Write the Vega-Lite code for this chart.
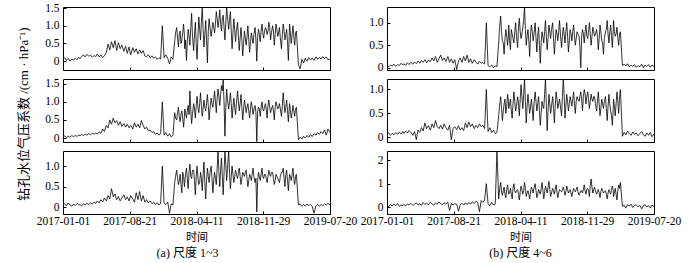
{
"$schema":"https://vega.github.io/schema/vega-lite/v6.json",
"padding":{"left":17,"top":1,"right":0,"bottom":0},
"data":{"values":[
{"t":"2017-01-01","a":0.05,"b":0.03,"c":0.04,"d":0.03,"e":0.06,"f":0.05},
{"t":"2017-01-07","a":0.10,"b":0.06,"c":0.08,"d":0.02,"e":0.09,"f":0.02},
{"t":"2017-01-13","a":0.02,"b":0.01,"c":0.03,"d":0.06,"e":0.04,"f":0.10},
{"t":"2017-01-19","a":0.08,"b":0.05,"c":0.10,"d":0.04,"e":0.08,"f":0.04},
{"t":"2017-01-25","a":0.00,"b":0.02,"c":0.05,"d":0.08,"e":0.05,"f":0.12},
{"t":"2017-02-01","a":0.06,"b":0.07,"c":0.02,"d":0.03,"e":0.10,"f":0.06},
{"t":"2017-02-07","a":0.03,"b":0.03,"c":0.07,"d":0.07,"e":0.06,"f":0.15},
{"t":"2017-02-13","a":0.09,"b":0.08,"c":0.04,"d":0.05,"e":0.11,"f":0.03},
{"t":"2017-02-19","a":0.04,"b":0.04,"c":0.09,"d":0.10,"e":0.07,"f":0.09},
{"t":"2017-02-25","a":0.11,"b":0.09,"c":0.05,"d":0.06,"e":0.12,"f":0.05},
{"t":"2017-03-01","a":0.07,"b":0.06,"c":0.06,"d":0.09,"e":0.08,"f":0.11},
{"t":"2017-03-07","a":0.13,"b":0.10,"c":0.03,"d":0.05,"e":0.13,"f":0.04},
{"t":"2017-03-13","a":0.18,"b":0.07,"c":0.08,"d":0.11,"e":0.09,"f":0.13},
{"t":"2017-03-19","a":0.12,"b":0.11,"c":0.05,"d":0.07,"e":0.14,"f":0.08},
{"t":"2017-03-25","a":0.19,"b":0.08,"c":0.09,"d":0.12,"e":0.10,"f":0.16},
{"t":"2017-04-01","a":0.14,"b":0.12,"c":0.06,"d":0.08,"e":0.04,"f":0.07},
{"t":"2017-04-07","a":0.17,"b":0.09,"c":0.11,"d":0.13,"e":0.12,"f":0.12},
{"t":"2017-04-13","a":0.11,"b":0.13,"c":0.07,"d":0.09,"e":-0.05,"f":0.18},
{"t":"2017-04-19","a":0.16,"b":0.10,"c":0.12,"d":0.15,"e":0.15,"f":0.09},
{"t":"2017-04-25","a":0.13,"b":0.14,"c":0.09,"d":0.10,"e":0.10,"f":0.14},
{"t":"2017-05-01","a":0.20,"b":0.11,"c":0.15,"d":0.16,"e":0.20,"f":0.07},
{"t":"2017-05-07","a":0.12,"b":0.17,"c":0.10,"d":0.12,"e":0.13,"f":0.19},
{"t":"2017-05-13","a":0.18,"b":0.13,"c":0.18,"d":0.18,"e":0.30,"f":0.11},
{"t":"2017-05-19","a":0.10,"b":0.25,"c":0.12,"d":0.11,"e":0.18,"f":0.16},
{"t":"2017-05-25","a":0.15,"b":0.18,"c":0.22,"d":0.17,"e":0.24,"f":0.10},
{"t":"2017-06-01","a":0.25,"b":0.35,"c":0.15,"d":0.14,"e":0.15,"f":0.20},
{"t":"2017-06-07","a":0.48,"b":0.28,"c":0.28,"d":0.22,"e":0.28,"f":0.13},
{"t":"2017-06-13","a":0.32,"b":0.50,"c":0.20,"d":0.15,"e":0.20,"f":0.08},
{"t":"2017-06-19","a":0.55,"b":0.38,"c":0.45,"d":0.25,"e":0.35,"f":0.17},
{"t":"2017-06-25","a":0.38,"b":0.55,"c":0.25,"d":0.12,"e":0.22,"f":0.12},
{"t":"2017-07-01","a":0.58,"b":0.42,"c":0.32,"d":0.20,"e":0.18,"f":0.22},
{"t":"2017-07-07","a":0.30,"b":0.48,"c":0.18,"d":0.28,"e":0.25,"f":0.14},
{"t":"2017-07-13","a":0.52,"b":0.35,"c":0.26,"d":0.16,"e":0.17,"f":0.10},
{"t":"2017-07-19","a":0.35,"b":0.45,"c":0.15,"d":0.22,"e":0.28,"f":0.18},
{"t":"2017-07-25","a":0.45,"b":0.32,"c":0.22,"d":0.14,"e":0.20,"f":0.12},
{"t":"2017-08-01","a":0.28,"b":0.40,"c":0.30,"d":0.25,"e":0.15,"f":0.20},
{"t":"2017-08-07","a":0.42,"b":0.30,"c":0.18,"d":0.12,"e":0.25,"f":-0.15},
{"t":"2017-08-13","a":0.22,"b":0.38,"c":0.25,"d":0.20,"e":-0.05,"f":0.15},
{"t":"2017-08-19","a":0.40,"b":0.28,"c":0.15,"d":0.10,"e":0.18,"f":0.09},
{"t":"2017-08-25","a":0.18,"b":0.35,"c":0.28,"d":0.18,"e":0.22,"f":0.14},
{"t":"2017-09-01","a":0.38,"b":0.25,"c":0.20,"d":-0.04,"e":0.16,"f":0.12},
{"t":"2017-09-07","a":0.25,"b":0.42,"c":0.12,"d":0.15,"e":0.24,"f":-0.18},
{"t":"2017-09-13","a":0.35,"b":0.30,"c":0.35,"d":0.22,"e":0.15,"f":0.10},
{"t":"2017-09-19","a":0.20,"b":0.38,"c":0.18,"d":0.12,"e":0.20,"f":0.16},
{"t":"2017-09-25","a":0.32,"b":0.28,"c":0.38,"d":0.25,"e":0.14,"f":0.08},
{"t":"2017-10-01","a":0.22,"b":0.48,"c":0.15,"d":0.15,"e":0.30,"f":0.18},
{"t":"2017-10-07","a":0.30,"b":0.35,"c":0.28,"d":0.28,"e":0.20,"f":0.10},
{"t":"2017-10-13","a":0.15,"b":0.25,"c":0.12,"d":0.12,"e":0.32,"f":0.20},
{"t":"2017-10-19","a":0.12,"b":0.30,"c":0.18,"d":0.20,"e":0.22,"f":0.12},
{"t":"2017-10-25","a":0.18,"b":0.20,"c":0.10,"d":0.10,"e":0.28,"f":0.22},
{"t":"2017-11-01","a":0.10,"b":0.22,"c":0.15,"d":0.18,"e":0.18,"f":0.15},
{"t":"2017-11-07","a":0.15,"b":0.15,"c":0.08,"d":0.12,"e":0.25,"f":0.25},
{"t":"2017-11-13","a":0.08,"b":0.18,"c":0.12,"d":0.08,"e":0.20,"f":0.18},
{"t":"2017-11-19","a":0.12,"b":0.10,"c":0.06,"d":0.14,"e":0.28,"f":-0.20},
{"t":"2017-11-25","a":0.05,"b":0.14,"c":0.10,"d":0.10,"e":0.22,"f":0.28},
{"t":"2017-12-01","a":0.10,"b":0.08,"c":0.05,"d":0.12,"e":0.25,"f":0.20},
{"t":"2017-12-07","a":0.06,"b":0.12,"c":0.08,"d":0.08,"e":0.18,"f":0.30},
{"t":"2017-12-13","a":1.0,"b":1.0,"c":1.0,"d":1.0,"e":1.0,"f":1.0},
{"t":"2017-12-19","a":0.10,"b":0.08,"c":0.10,"d":0.05,"e":0.12,"f":0.15},
{"t":"2017-12-25","a":0.18,"b":0.15,"c":0.06,"d":0.02,"e":0.20,"f":0.05},
{"t":"2018-01-01","a":0.08,"b":0.05,"c":0.12,"d":0.06,"e":0.10,"f":0.20},
{"t":"2018-01-07","a":-0.08,"b":0.12,"c":-0.15,"d":0.00,"e":0.15,"f":0.08},
{"t":"2018-01-13","a":0.12,"b":0.03,"c":0.08,"d":0.04,"e":0.08,"f":0.12},
{"t":"2018-01-19","a":0.05,"b":0.08,"c":0.05,"d":0.03,"e":0.10,"f":2.4},
{"t":"2018-01-25","a":0.55,"b":0.70,"c":0.60,"d":0.55,"e":0.45,"f":0.35},
{"t":"2018-02-01","a":0.95,"b":0.50,"c":0.90,"d":1.15,"e":0.85,"f":1.05},
{"t":"2018-02-07","a":0.40,"b":0.85,"c":0.55,"d":0.60,"e":0.35,"f":0.50},
{"t":"2018-02-13","a":0.85,"b":0.45,"c":0.80,"d":0.30,"e":0.70,"f":0.85},
{"t":"2018-02-19","a":0.60,"b":0.75,"c":0.35,"d":0.85,"e":0.50,"f":0.40},
{"t":"2018-02-25","a":1.05,"b":0.30,"c":0.75,"d":0.50,"e":0.90,"f":0.95},
{"t":"2018-03-01","a":0.35,"b":0.80,"c":0.60,"d":0.95,"e":0.60,"f":0.55},
{"t":"2018-03-07","a":0.02,"b":0.55,"c":0.95,"d":0.40,"e":0.80,"f":0.80},
{"t":"2018-03-13","a":0.90,"b":0.90,"c":0.45,"d":0.75,"e":0.40,"f":0.35},
{"t":"2018-03-19","a":0.45,"b":1.30,"c":1.05,"d":0.55,"e":0.95,"f":1.00},
{"t":"2018-03-25","a":1.35,"b":0.40,"c":0.70,"d":1.00,"e":0.55,"f":0.60},
{"t":"2018-04-01","a":0.30,"b":0.95,"c":0.90,"d":0.45,"e":0.85,"f":0.75},
{"t":"2018-04-07","a":1.10,"b":0.55,"c":0.30,"d":1.10,"e":0.45,"f":0.30},
{"t":"2018-04-13","a":0.05,"b":1.15,"c":1.00,"d":0.65,"e":1.10,"f":0.90},
{"t":"2018-04-19","a":1.25,"b":0.70,"c":0.55,"d":0.90,"e":0.60,"f":0.55},
{"t":"2018-04-25","a":0.60,"b":1.25,"c":0.85,"d":1.35,"e":1.22,"f":1.05},
{"t":"2018-05-01","a":1.50,"b":0.60,"c":0.40,"d":0.50,"e":0.30,"f":0.45},
{"t":"2018-05-07","a":0.40,"b":1.05,"c":1.10,"d":0.85,"e":0.90,"f":0.70},
{"t":"2018-05-13","a":1.15,"b":0.75,"c":0.20,"d":0.25,"e":0.50,"f":0.35},
{"t":"2018-05-19","a":-0.05,"b":1.20,"c":0.95,"d":0.95,"e":0.80,"f":0.85},
{"t":"2018-05-25","a":1.20,"b":0.50,"c":0.60,"d":0.60,"e":0.35,"f":0.60},
{"t":"2018-06-01","a":0.70,"b":1.10,"c":1.00,"d":1.00,"e":0.95,"f":1.00},
{"t":"2018-06-07","a":1.10,"b":0.85,"c":0.35,"d":0.35,"e":0.55,"f":0.40},
{"t":"2018-06-13","a":0.80,"b":1.30,"c":0.85,"d":0.90,"e":0.85,"f":0.75},
{"t":"2018-06-19","a":1.40,"b":0.70,"c":0.55,"d":0.10,"e":0.25,"f":0.55},
{"t":"2018-06-25","a":0.95,"b":1.35,"c":1.37,"d":0.80,"e":0.75,"f":1.05},
{"t":"2018-07-01","a":1.45,"b":0.90,"c":0.50,"d":0.55,"e":0.60,"f":0.35},
{"t":"2018-07-07","a":0.85,"b":1.45,"c":1.20,"d":1.05,"e":1.22,"f":0.90},
{"t":"2018-07-13","a":1.30,"b":1.60,"c":0.30,"d":0.40,"e":0.14,"f":0.60},
{"t":"2018-07-19","a":0.60,"b":0.05,"c":1.37,"d":0.95,"e":0.90,"f":1.10},
{"t":"2018-07-25","a":1.52,"b":1.35,"c":0.65,"d":0.65,"e":0.50,"f":0.45},
{"t":"2018-08-01","a":0.90,"b":0.80,"c":1.37,"d":1.00,"e":0.85,"f":0.80},
{"t":"2018-08-07","a":1.40,"b":1.25,"c":0.45,"d":0.30,"e":0.30,"f":0.55},
{"t":"2018-08-13","a":0.35,"b":0.55,"c":1.00,"d":0.85,"e":0.95,"f":0.95},
{"t":"2018-08-19","a":1.20,"b":1.10,"c":0.60,"d":0.60,"e":0.60,"f":0.40},
{"t":"2018-08-25","a":0.55,"b":0.65,"c":0.90,"d":1.05,"e":0.80,"f":0.75},
{"t":"2018-09-01","a":1.10,"b":1.30,"c":0.70,"d":0.45,"e":0.45,"f":0.65},
{"t":"2018-09-07","a":0.30,"b":0.75,"c":0.95,"d":0.90,"e":1.22,"f":0.85},
{"t":"2018-09-13","a":0.95,"b":1.20,"c":0.55,"d":0.55,"e":0.40,"f":0.50},
{"t":"2018-09-19","a":0.15,"b":0.50,"c":0.85,"d":1.00,"e":0.90,"f":0.90},
{"t":"2018-09-25","a":0.85,"b":1.05,"c":0.75,"d":0.35,"e":0.55,"f":0.60},
{"t":"2018-10-01","a":0.45,"b":0.70,"c":0.90,"d":0.85,"e":0.85,"f":0.75},
{"t":"2018-10-07","a":1.00,"b":0.95,"c":0.50,"d":0.60,"e":0.65,"f":0.45},
{"t":"2018-10-13","a":0.25,"b":0.55,"c":0.80,"d":0.95,"e":0.95,"f":0.80},
{"t":"2018-10-19","a":0.80,"b":1.00,"c":0.65,"d":0.50,"e":0.50,"f":0.65},
{"t":"2018-10-25","a":0.50,"b":0.65,"c":0.95,"d":0.80,"e":0.85,"f":0.85},
{"t":"2018-11-01","a":0.95,"b":0.90,"c":0.60,"d":0.70,"e":0.75,"f":0.50},
{"t":"2018-11-07","a":0.00,"b":-0.10,"c":-0.12,"d":0.00,"e":0.95,"f":0.70},
{"t":"2018-11-13","a":0.90,"b":0.85,"c":0.85,"d":0.85,"e":0.55,"f":0.60},
{"t":"2018-11-19","a":0.55,"b":0.60,"c":0.65,"d":0.55,"e":1.00,"f":0.95},
{"t":"2018-11-25","a":1.05,"b":1.00,"c":0.95,"d":0.95,"e":0.70,"f":0.55},
{"t":"2018-12-01","a":0.65,"b":0.75,"c":0.70,"d":0.65,"e":0.95,"f":0.80},
{"t":"2018-12-07","a":0.95,"b":0.95,"c":0.80,"d":1.00,"e":0.60,"f":0.45},
{"t":"2018-12-13","a":0.75,"b":0.55,"c":0.60,"d":0.50,"e":0.90,"f":1.20},
{"t":"2018-12-19","a":1.10,"b":1.05,"c":0.90,"d":0.90,"e":0.75,"f":0.60},
{"t":"2018-12-25","a":0.60,"b":0.70,"c":0.75,"d":0.70,"e":0.85,"f":0.85},
{"t":"2019-01-01","a":1.00,"b":0.90,"c":0.85,"d":0.85,"e":0.55,"f":0.55},
{"t":"2019-01-07","a":0.45,"b":0.50,"c":0.55,"d":0.40,"e":0.95,"f":0.75},
{"t":"2019-01-13","a":1.05,"b":1.00,"c":0.80,"d":0.95,"e":0.45,"f":0.40},
{"t":"2019-01-19","a":0.70,"b":0.80,"c":0.70,"d":0.60,"e":0.80,"f":0.80},
{"t":"2019-01-25","a":0.95,"b":0.95,"c":0.60,"d":0.30,"e":0.60,"f":0.60},
{"t":"2019-02-01","a":0.35,"b":0.60,"c":0.85,"d":0.80,"e":0.85,"f":0.70},
{"t":"2019-02-07","a":1.05,"b":1.25,"c":0.95,"d":1.05,"e":0.35,"f":0.35},
{"t":"2019-02-13","a":0.60,"b":0.70,"c":0.50,"d":0.55,"e":0.90,"f":0.75},
{"t":"2019-02-19","a":0.90,"b":1.05,"c":0.90,"d":0.95,"e":0.55,"f":0.55},
{"t":"2019-02-25","a":0.02,"b":0.45,"c":0.40,"d":0.45,"e":0.25,"f":0.90},
{"t":"2019-03-01","a":1.05,"b":0.95,"c":0.80,"d":1.05,"e":0.80,"f":0.45},
{"t":"2019-03-07","a":0.50,"b":0.55,"c":0.65,"d":0.70,"e":0.45,"f":0.80},
{"t":"2019-03-13","a":1.00,"b":0.90,"c":0.95,"d":0.90,"e":0.95,"f":0.30},
{"t":"2019-03-19","a":0.45,"b":0.60,"c":0.55,"d":0.50,"e":0.50,"f":0.95},
{"t":"2019-03-25","a":0.85,"b":0.85,"c":0.80,"d":0.80,"e":1.00,"f":1.05},
{"t":"2019-04-01","a":-0.10,"b":-0.05,"c":0.05,"d":0.05,"e":0.02,"f":0.02},
{"t":"2019-04-07","a":-0.22,"b":0.02,"c":0.08,"d":0.08,"e":0.10,"f":0.08},
{"t":"2019-04-13","a":0.05,"b":-0.03,"c":0.02,"d":0.04,"e":0.05,"f":-0.05},
{"t":"2019-04-19","a":-0.05,"b":0.05,"c":0.06,"d":0.09,"e":0.13,"f":0.10},
{"t":"2019-04-25","a":0.08,"b":0.00,"c":0.03,"d":0.02,"e":0.08,"f":0.04},
{"t":"2019-05-01","a":0.00,"b":0.07,"c":0.07,"d":0.06,"e":0.04,"f":0.12},
{"t":"2019-05-07","a":0.10,"b":0.02,"c":0.04,"d":0.03,"e":0.11,"f":-0.02},
{"t":"2019-05-13","a":0.03,"b":0.10,"c":0.06,"d":0.07,"e":0.06,"f":0.06},
{"t":"2019-05-19","a":0.09,"b":0.04,"c":0.02,"d":0.01,"e":0.09,"f":0.09},
{"t":"2019-05-25","a":0.02,"b":0.12,"c":-0.15,"d":0.05,"e":0.03,"f":0.01},
{"t":"2019-06-01","a":0.12,"b":0.08,"c":0.03,"d":0.02,"e":0.08,"f":0.07},
{"t":"2019-06-07","a":0.05,"b":0.15,"c":0.07,"d":0.08,"e":0.12,"f":-0.08},
{"t":"2019-06-13","a":0.11,"b":0.10,"c":0.02,"d":0.00,"e":0.05,"f":0.05},
{"t":"2019-06-19","a":0.06,"b":0.18,"c":0.06,"d":0.06,"e":0.02,"f":0.10},
{"t":"2019-06-25","a":0.13,"b":0.12,"c":0.04,"d":0.03,"e":0.09,"f":0.00},
{"t":"2019-07-01","a":0.07,"b":0.22,"c":0.08,"d":0.07,"e":0.04,"f":0.06},
{"t":"2019-07-07","a":0.12,"b":0.08,"c":0.05,"d":0.01,"e":0.10,"f":-0.04},
{"t":"2019-07-13","a":0.04,"b":0.25,"c":0.09,"d":0.06,"e":0.01,"f":0.08},
{"t":"2019-07-20","a":0.06,"b":0.15,"c":0.05,"d":0.03,"e":0.07,"f":0.02},
{"t":"2018-01-28","a":0.80,"b":0.55,"c":0.75,"d":0.90,"e":0.65,"f":0.75},
{"t":"2018-02-04","a":0.65,"b":0.70,"c":0.70,"d":0.80,"e":0.60,"f":0.65},
{"t":"2018-02-10","a":0.75,"b":0.60,"c":0.65,"d":0.55,"e":0.55,"f":0.70},
{"t":"2018-02-16","a":0.50,"b":0.65,"c":0.55,"d":0.65,"e":0.80,"f":0.55},
{"t":"2018-02-22","a":0.80,"b":0.55,"c":0.85,"d":0.70,"e":0.65,"f":0.75},
{"t":"2018-02-28","a":0.70,"b":0.60,"c":0.50,"d":0.75,"e":0.75,"f":0.65},
{"t":"2018-03-04","a":0.60,"b":0.70,"c":0.80,"d":0.60,"e":0.70,"f":0.60},
{"t":"2018-03-10","a":0.55,"b":0.75,"c":0.70,"d":0.85,"e":0.55,"f":0.55},
{"t":"2018-03-16","a":0.70,"b":0.65,"c":0.85,"d":0.65,"e":0.70,"f":0.80},
{"t":"2018-03-22","a":0.95,"b":0.80,"c":0.75,"d":0.80,"e":0.75,"f":0.70},
{"t":"2018-03-28","a":0.70,"b":0.65,"c":0.90,"d":0.70,"e":0.65,"f":0.70},
{"t":"2018-04-04","a":0.75,"b":0.80,"c":0.65,"d":0.90,"e":0.70,"f":0.55},
{"t":"2018-04-10","a":0.50,"b":0.90,"c":0.75,"d":0.80,"e":0.80,"f":0.65},
{"t":"2018-04-16","a":0.65,"b":0.85,"c":0.70,"d":0.75,"e":0.85,"f":0.75},
{"t":"2018-04-22","a":0.90,"b":0.95,"c":0.60,"d":1.05,"e":0.90,"f":0.70},
{"t":"2018-04-28","a":1.10,"b":0.90,"c":0.70,"d":0.85,"e":0.75,"f":0.80},
{"t":"2018-05-04","a":0.90,"b":0.80,"c":0.80,"d":0.70,"e":0.65,"f":0.60},
{"t":"2018-05-10","a":0.75,"b":0.85,"c":0.60,"d":0.60,"e":0.70,"f":0.55},
{"t":"2018-05-16","a":0.60,"b":0.95,"c":0.65,"d":0.75,"e":0.65,"f":0.65},
{"t":"2018-05-22","a":0.85,"b":0.90,"c":0.75,"d":0.80,"e":0.60,"f":0.75},
{"t":"2018-05-28","a":0.95,"b":0.80,"c":0.85,"d":0.75,"e":0.70,"f":0.80},
{"t":"2018-06-04","a":0.90,"b":0.95,"c":0.70,"d":0.65,"e":0.75,"f":0.70},
{"t":"2018-06-10","a":0.95,"b":1.05,"c":0.65,"d":0.70,"e":0.70,"f":0.55},
{"t":"2018-06-16","a":1.05,"b":1.00,"c":0.70,"d":0.50,"e":0.55,"f":0.65},
{"t":"2018-06-22","a":1.20,"b":1.10,"c":0.95,"d":0.55,"e":0.50,"f":0.80},
{"t":"2018-06-28","a":1.15,"b":1.15,"c":0.85,"d":0.70,"e":0.65,"f":0.70},
{"t":"2018-07-04","a":1.05,"b":1.20,"c":0.90,"d":0.80,"e":0.90,"f":0.65},
{"t":"2018-07-10","a":1.20,"b":1.30,"c":0.75,"d":0.70,"e":0.70,"f":0.75},
{"t":"2018-07-16","a":0.95,"b":1.00,"c":0.85,"d":0.65,"e":0.55,"f":0.85},
{"t":"2018-07-22","a":1.10,"b":0.85,"c":1.05,"d":0.80,"e":0.70,"f":0.75},
{"t":"2018-07-28","a":1.25,"b":1.05,"c":0.95,"d":0.85,"e":0.65,"f":0.60},
{"t":"2018-08-04","a":1.15,"b":1.00,"c":0.85,"d":0.65,"e":0.60,"f":0.70},
{"t":"2018-08-10","a":0.85,"b":0.95,"c":0.75,"d":0.60,"e":0.65,"f":0.75},
{"t":"2018-08-16","a":0.80,"b":0.85,"c":0.80,"d":0.75,"e":0.80,"f":0.65},
{"t":"2018-08-22","a":0.90,"b":0.85,"c":0.75,"d":0.80,"e":0.70,"f":0.60},
{"t":"2018-08-28","a":0.85,"b":0.95,"c":0.80,"d":0.75,"e":0.65,"f":0.70},
{"t":"2018-09-04","a":0.70,"b":1.00,"c":0.85,"d":0.70,"e":0.85,"f":0.75},
{"t":"2018-09-10","a":0.65,"b":0.95,"c":0.75,"d":0.75,"e":0.90,"f":0.70},
{"t":"2018-09-16","a":0.60,"b":0.85,"c":0.70,"d":0.80,"e":0.65,"f":0.65},
{"t":"2018-09-22","a":0.50,"b":0.80,"c":0.80,"d":0.70,"e":0.75,"f":0.75},
{"t":"2018-09-28","a":0.65,"b":0.90,"c":0.85,"d":0.60,"e":0.70,"f":0.70},
{"t":"2018-10-04","a":0.70,"b":0.85,"c":0.70,"d":0.75,"e":0.75,"f":0.60},
{"t":"2018-10-10","a":0.60,"b":0.75,"c":0.65,"d":0.80,"e":0.80,"f":0.65},
{"t":"2018-10-16","a":0.55,"b":0.80,"c":0.75,"d":0.70,"e":0.70,"f":0.70},
{"t":"2018-10-22","a":0.65,"b":0.85,"c":0.80,"d":0.65,"e":0.75,"f":0.75},
{"t":"2018-10-28","a":0.75,"b":0.80,"c":0.75,"d":0.75,"e":0.80,"f":0.65},
{"t":"2018-11-04","a":0.60,"b":0.70,"c":0.70,"d":0.45,"e":0.85,"f":0.60},
{"t":"2018-11-10","a":0.70,"b":0.75,"c":0.65,"d":0.70,"e":0.80,"f":0.70},
{"t":"2018-11-16","a":0.75,"b":0.80,"c":0.75,"d":0.75,"e":0.85,"f":0.75},
{"t":"2018-11-22","a":0.85,"b":0.85,"c":0.80,"d":0.80,"e":0.90,"f":0.70},
{"t":"2018-11-28","a":0.80,"b":0.80,"c":0.75,"d":0.70,"e":0.85,"f":0.75},
{"t":"2018-12-04","a":0.85,"b":0.85,"c":0.80,"d":0.80,"e":0.80,"f":0.70},
{"t":"2018-12-10","a":0.90,"b":0.80,"c":0.70,"d":0.75,"e":0.75,"f":0.90},
{"t":"2018-12-16","a":0.85,"b":0.90,"c":0.75,"d":0.70,"e":0.80,"f":0.85},
{"t":"2018-12-22","a":0.95,"b":0.85,"c":0.80,"d":0.80,"e":0.85,"f":0.75},
{"t":"2018-12-28","a":0.80,"b":0.80,"c":0.85,"d":0.75,"e":0.70,"f":0.70},
{"t":"2019-01-04","a":0.85,"b":0.75,"c":0.70,"d":0.70,"e":0.75,"f":0.65},
{"t":"2019-01-10","a":0.75,"b":0.85,"c":0.65,"d":0.65,"e":0.70,"f":0.60},
{"t":"2019-01-16","a":0.90,"b":0.90,"c":0.75,"d":0.80,"e":0.60,"f":0.65},
{"t":"2019-01-22","a":0.80,"b":0.85,"c":0.65,"d":0.55,"e":0.70,"f":0.70},
{"t":"2019-01-28","a":0.65,"b":0.80,"c":0.75,"d":0.65,"e":0.75,"f":0.65},
{"t":"2019-02-04","a":0.75,"b":0.90,"c":0.85,"d":0.85,"e":0.60,"f":0.55},
{"t":"2019-02-10","a":0.85,"b":0.95,"c":0.70,"d":0.75,"e":0.65,"f":0.60},
{"t":"2019-02-16","a":0.75,"b":0.85,"c":0.80,"d":0.80,"e":0.70,"f":0.65},
{"t":"2019-02-22","a":0.55,"b":0.75,"c":0.65,"d":0.70,"e":0.45,"f":0.75},
{"t":"2019-02-28","a":0.70,"b":0.80,"c":0.70,"d":0.85,"e":0.60,"f":0.70},
{"t":"2019-03-04","a":0.80,"b":0.75,"c":0.75,"d":0.80,"e":0.65,"f":0.60},
{"t":"2019-03-10","a":0.75,"b":0.70,"c":0.80,"d":0.75,"e":0.70,"f":0.55},
{"t":"2019-03-16","a":0.70,"b":0.75,"c":0.70,"d":0.65,"e":0.75,"f":0.70},
{"t":"2019-03-22","a":0.80,"b":0.80,"c":0.75,"d":0.75,"e":0.85,"f":0.80}
]},
"spacing":1,
"hconcat":[
{"title":{"text":"(a) 尺度 1~3","orient":"bottom","anchor":"middle","offset":5},
 "vconcat":[
 {"title":{"text":"钻孔水位气压系数 /(cm · hPa⁻¹)","orient":"left","anchor":"middle","offset":5,"fontSize":13,"dx":8},
  "spacing":9,"bounds":"flush",
  "vconcat":[
  {"width":267,"height":63,"mark":{"type":"line","color":"#000","strokeWidth":0.8,"clip":true},
   "encoding":{
    "x":{"field":"t","type":"temporal","scale":{"type":"utc","domain":[{"year":2017,"month":1,"date":1,"utc":true},{"year":2019,"month":7,"date":20,"utc":true}]},
         "axis":{"values":[{"year":2017,"month":1,"date":1,"utc":true},{"year":2017,"month":8,"date":21,"utc":true},{"year":2018,"month":4,"date":11,"utc":true},{"year":2018,"month":11,"date":29,"utc":true},{"year":2019,"month":7,"date":20,"utc":true}],"labels":false,"title":null}},
    "y":{"field":"a","type":"quantitative","scale":{"domain":[-0.25,1.53],"nice":false,"zero":false},
         "axis":{"values":[0,0.5,1,1.5],"title":null,"labelExpr":"datum.value == 0 ? '0' : format(datum.value, '.1f')"}}}},
  {"width":267,"height":63,"mark":{"type":"line","color":"#000","strokeWidth":0.8,"clip":true},
   "encoding":{
    "x":{"field":"t","type":"temporal","scale":{"type":"utc","domain":[{"year":2017,"month":1,"date":1,"utc":true},{"year":2019,"month":7,"date":20,"utc":true}]},
         "axis":{"values":[{"year":2017,"month":1,"date":1,"utc":true},{"year":2017,"month":8,"date":21,"utc":true},{"year":2018,"month":4,"date":11,"utc":true},{"year":2018,"month":11,"date":29,"utc":true},{"year":2019,"month":7,"date":20,"utc":true}],"labels":false,"title":null}},
    "y":{"field":"b","type":"quantitative","scale":{"domain":[-0.11,1.63],"nice":false,"zero":false},
         "axis":{"values":[0,0.5,1,1.5],"title":null,"labelExpr":"datum.value == 0 ? '0' : format(datum.value, '.1f')"}}}},
  {"width":267,"height":63,"mark":{"type":"line","color":"#000","strokeWidth":0.8,"clip":true},
   "encoding":{
    "x":{"field":"t","type":"temporal","scale":{"type":"utc","domain":[{"year":2017,"month":1,"date":1,"utc":true},{"year":2019,"month":7,"date":20,"utc":true}]},
         "axis":{"values":[{"year":2017,"month":1,"date":1,"utc":true},{"year":2017,"month":8,"date":21,"utc":true},{"year":2018,"month":4,"date":11,"utc":true},{"year":2018,"month":11,"date":29,"utc":true},{"year":2019,"month":7,"date":20,"utc":true}],"title":"时间","labelExpr":"utcFormat(datum.value, '%Y-%m-%d')"}},
    "y":{"field":"c","type":"quantitative","scale":{"domain":[-0.17,1.37],"nice":false,"zero":false},
         "axis":{"values":[0,0.5,1],"title":null,"labelExpr":"datum.value == 0 ? '0' : format(datum.value, '.1f')"}}}}
  ]}
 ]},
{"title":{"text":"(b) 尺度 4~6","orient":"bottom","anchor":"middle","offset":5},
 "spacing":9,"bounds":"flush",
 "vconcat":[
  {"width":267,"height":63,"mark":{"type":"line","color":"#000","strokeWidth":0.8,"clip":true},
   "encoding":{
    "x":{"field":"t","type":"temporal","scale":{"type":"utc","domain":[{"year":2017,"month":1,"date":1,"utc":true},{"year":2019,"month":7,"date":20,"utc":true}]},
         "axis":{"values":[{"year":2017,"month":1,"date":1,"utc":true},{"year":2017,"month":8,"date":21,"utc":true},{"year":2018,"month":4,"date":11,"utc":true},{"year":2018,"month":11,"date":29,"utc":true},{"year":2019,"month":7,"date":20,"utc":true}],"labels":false,"title":null}},
    "y":{"field":"d","type":"quantitative","scale":{"domain":[-0.05,1.35],"nice":false,"zero":false},
         "axis":{"values":[0,0.5,1],"title":null,"labelExpr":"datum.value == 0 ? '0' : format(datum.value, '.1f')"}}}},
  {"width":267,"height":63,"mark":{"type":"line","color":"#000","strokeWidth":0.8,"clip":true},
   "encoding":{
    "x":{"field":"t","type":"temporal","scale":{"type":"utc","domain":[{"year":2017,"month":1,"date":1,"utc":true},{"year":2019,"month":7,"date":20,"utc":true}]},
         "axis":{"values":[{"year":2017,"month":1,"date":1,"utc":true},{"year":2017,"month":8,"date":21,"utc":true},{"year":2018,"month":4,"date":11,"utc":true},{"year":2018,"month":11,"date":29,"utc":true},{"year":2019,"month":7,"date":20,"utc":true}],"labels":false,"title":null}},
    "y":{"field":"e","type":"quantitative","scale":{"domain":[-0.1,1.22],"nice":false,"zero":false},
         "axis":{"values":[0,0.5,1],"title":null,"labelExpr":"datum.value == 0 ? '0' : format(datum.value, '.1f')"}}}},
  {"width":267,"height":63,"mark":{"type":"line","color":"#000","strokeWidth":0.8,"clip":true},
   "encoding":{
    "x":{"field":"t","type":"temporal","scale":{"type":"utc","domain":[{"year":2017,"month":1,"date":1,"utc":true},{"year":2019,"month":7,"date":20,"utc":true}]},
         "axis":{"values":[{"year":2017,"month":1,"date":1,"utc":true},{"year":2017,"month":8,"date":21,"utc":true},{"year":2018,"month":4,"date":11,"utc":true},{"year":2018,"month":11,"date":29,"utc":true},{"year":2019,"month":7,"date":20,"utc":true}],"title":"时间","labelExpr":"utcFormat(datum.value, '%Y-%m-%d')"}},
    "y":{"field":"f","type":"quantitative","scale":{"domain":[-0.3,2.4],"nice":false,"zero":false},
         "axis":{"values":[0,1,2],"title":null,"labelExpr":"format(datum.value, 'd')"}}}}
 ]}
],
"config":{
 "font":"Liberation Serif, Times New Roman, DejaVu Serif, Noto Sans CJK SC, serif",
 "view":{"stroke":"#000","strokeWidth":1},
 "axis":{"grid":false,"domain":false,"ticks":true,"tickSize":-3,"tickColor":"#000","labelOverlap":false,"labelFlush":false,"labelFont":"Liberation Serif, Times New Roman, DejaVu Serif, serif","labelFontSize":11.5,"labelColor":"#000","titleFont":"Liberation Serif, Times New Roman, Noto Sans CJK SC, serif","titleFontWeight":"normal","titleColor":"#000","titleFontSize":11,"titlePadding":5},
 "axisY":{"labelPadding":7},
 "axisX":{"labelPadding":4},
 "title":{"font":"Liberation Serif, Times New Roman, Noto Sans CJK SC, serif","fontWeight":"normal","fontSize":12,"color":"#000"}
}
}
